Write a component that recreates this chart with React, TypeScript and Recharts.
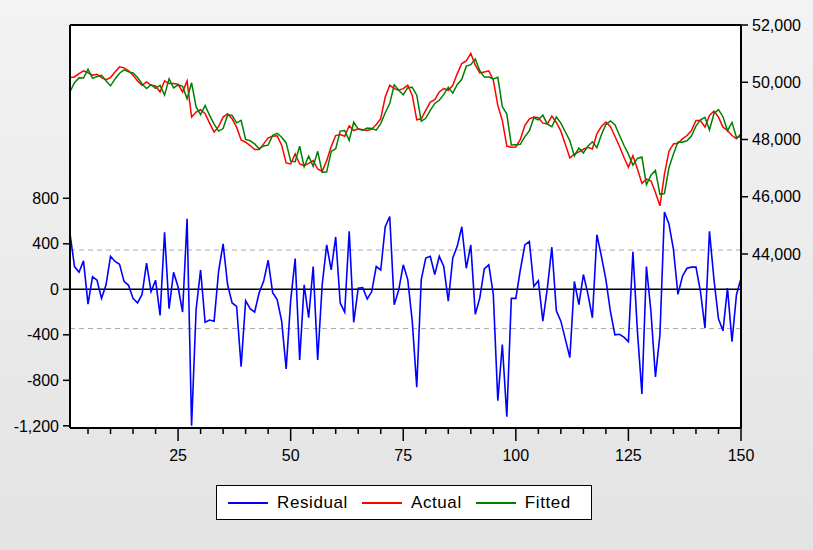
import { ComposedChart, Line, XAxis, YAxis, ReferenceLine, CartesianGrid } from 'recharts';

// residual = actual - fitted, one value per observation 1..150
const residual = [
  490, 200, 150, 250, -130, 110, 80, -80, 40, 290,
  245, 220, 70, 35, -80, -120, -45, 230, -20, 80,
  -230, 500, -170, 150, 20, -200, 620, -1200, -180, 170,
  -290, -270, -280, 160, 400, 40, -120, -150, -680, -100,
  -170, -200, -30, 70, 255, -30, -90, -280, -700, -100,
  270, -620, 40, -250, 200, -620, 40, 390, 170, 460,
  -120, -200, 510, -290, 10, 15, -85, -20, 200, 170,
  550, 640, -135, -5, 215, 85, -280, -860, 85, 275,
  290, 130, 290, 200, -105, 275, 380, 550, 185, 390,
  -220, -75, 180, 215, -45, -980, -485, -1120, -80, -80,
  170, 390, 420, 25, 75, -280, 10, 370, -190, -280,
  -440, -600, 70, -135, 130, -40, -250, 480, 290, 85,
  -195, -400, -395, -420, -460, 330, -370, -920, 200, -195,
  -770, -400, 680, 575, 350, -45, 115, 185, 195, 195,
  -20, -340, 510, 85, -260, -365, 10, -460, -45, 95,
];

const actual = [
  50163, 50186, 50303, 50397, 50326, 50245, 50280, 50163, 50092, 50163,
  50361, 50537, 50502, 50397, 50245, 50045, 49894, 50011, 49894, 49870,
  49660, 50050, 49952, 49952, 49929, 49660, 50045, 48782, 48958, 49039,
  48899, 48571, 48255, 48455, 48782, 48899, 48723, 48431, 47986, 47905,
  47788, 47647, 47647, 47846, 48057, 48115, 48127, 47800, 47180, 47144,
  47495, 47144, 47086, 47167, 47261, 46968, 46887, 47261, 47752, 48138,
  48174, 48115, 48478, 48314, 48373, 48338, 48314, 48361, 48525, 48724,
  49484, 49894, 49777, 49718, 49777, 49894, 49542, 48689, 48724, 49016,
  49309, 49390, 49660, 49777, 49718, 49894, 50303, 50654, 50748, 51005,
  50596, 50326, 50361, 50397, 50069, 49191, 48665, 47770, 47729, 47740,
  48000, 48490, 48724, 48782, 48759, 48571, 48548, 48817, 48595, 48291,
  47823, 47355, 47495, 47565, 47659, 47729, 47670, 48197, 48455, 48607,
  48455, 48115, 47764, 47378, 47027, 47436, 46969, 46466, 46618, 46559,
  46150, 45682, 46793, 47589, 47846, 47870, 48022, 48138, 48314, 48665,
  48665, 48431, 48841, 48993, 48782, 48431, 48314, 48138, 48022, 48197,
];

const fitted = [
  49673, 49986, 50153, 50147, 50456, 50135, 50200, 50243, 50052, 49873,
  50116, 50317, 50432, 50362, 50325, 50165, 49939, 49781, 49914, 49790,
  49890, 49550, 50122, 49802, 49909, 49860, 49425, 49982, 49138, 48869,
  49189, 48841, 48535, 48295, 48382, 48859, 48843, 48581, 48666, 48005,
  47958, 47847, 47677, 47776, 47802, 48145, 48217, 48080, 47880, 47244,
  47225, 47764, 47046, 47417, 47061, 47588, 46847, 46871, 47582, 47678,
  48294, 48315, 47968, 48604, 48363, 48323, 48399, 48381, 48325, 48554,
  48934, 49254, 49912, 49723, 49562, 49809, 49822, 49549, 48639, 48741,
  49019, 49260, 49370, 49577, 49823, 49619, 49923, 50104, 50563, 50615,
  50816, 50401, 50181, 50182, 50114, 50171, 49150, 48890, 47809, 47820,
  47830, 48100, 48304, 48757, 48684, 48851, 48538, 48447, 48785, 48571,
  48263, 47955, 47425, 47700, 47529, 47769, 47920, 47717, 48165, 48522,
  48650, 48515, 48159, 47798, 47487, 47106, 47339, 47386, 46418, 46754,
  46920, 46082, 46113, 47014, 47496, 47915, 47907, 47953, 48119, 48470,
  48685, 48771, 48331, 48908, 49042, 48796, 48304, 48598, 48067, 48102,
];

const obsTicks = [5, 10, 15, 20, 25, 30, 35, 40, 45, 50, 55, 60, 65, 70, 75, 80, 85, 90, 95, 100,
  105, 110, 115, 120, 125, 130, 135, 140, 145, 150];
const residualTicks = [-1200, -800, -400, 0, 400, 800];
const levelTicks = [44000, 46000, 48000, 50000, 52000];
const residualSE = 345;

const data = residual.map((r, i) => ({ obs: i + 1, residual: r, actual: actual[i], fitted: fitted[i] }));

const fmt = (v: number) => v.toLocaleString('en-US');

const ObsTick = (props: any) => {
  const { x, y, payload } = props;
  const major = payload.value % 25 === 0;
  return (
    <g>
      <line x1={x} x2={x} y1={y} y2={y + (major ? 13 : 6)} stroke="#000" strokeWidth={1.5} />
      {major && (
        <text x={x} y={y + 33} textAnchor="middle" fontSize={16} fill="#000">
          {payload.value}
        </text>
      )}
    </g>
  );
};

const legendItems = [
  { name: 'Residual', color: '#0000ff' },
  { name: 'Actual', color: '#ff0000' },
  { name: 'Fitted', color: '#008000' },
];

export default function App() {
  return (
    <div
      style={{
        position: 'absolute',
        left: 0,
        top: 0,
        width: 813,
        height: 550,
        background: 'linear-gradient(#f3f3f3, #e3e3e3)',
        fontFamily: '"Liberation Sans", Arial, sans-serif',
      }}
    >
      <ComposedChart width={813} height={550} data={data} margin={{ top: 25, right: 0, bottom: 0, left: 0 }}>
        <CartesianGrid horizontal={false} vertical={false} fill="#ffffff" />
        <XAxis
          dataKey="obs"
          type="number"
          domain={[1, 150]}
          ticks={obsTicks}
          interval={0}
          height={122}
          tickSize={0}
          tickMargin={0}
          tickLine={false}
          tick={<ObsTick />}
          axisLine={{ stroke: '#000', strokeWidth: 2 }}
          allowDataOverflow
        />
        <YAxis
          yAxisId="res"
          orientation="left"
          width={70}
          type="number"
          domain={[-1219, 2323]}
          ticks={residualTicks}
          interval={0}
          tickSize={7}
          tickMargin={4}
          tickFormatter={fmt}
          tick={{ fontSize: 16, fill: '#000' }}
          tickLine={{ stroke: '#000', strokeWidth: 1.5 }}
          axisLine={{ stroke: '#000', strokeWidth: 2 }}
          allowDataOverflow
        />
        <YAxis
          yAxisId="lvl"
          orientation="right"
          width={72}
          type="number"
          domain={[37921, 52000]}
          ticks={levelTicks}
          interval={0}
          tickSize={7}
          tickMargin={4}
          tickFormatter={fmt}
          tick={{ fontSize: 16, fill: '#000' }}
          tickLine={{ stroke: '#000', strokeWidth: 1.5 }}
          axisLine={{ stroke: '#000', strokeWidth: 2 }}
          allowDataOverflow
        />
        <ReferenceLine yAxisId="lvl" y={52000} stroke="#000" strokeWidth={2} />
        <ReferenceLine yAxisId="res" y={residualSE} stroke="#aaaaaa" strokeDasharray="5 4" />
        <ReferenceLine yAxisId="res" y={-residualSE} stroke="#aaaaaa" strokeDasharray="5 4" />
        <ReferenceLine yAxisId="res" y={0} stroke="#000" strokeWidth={1.5} />
        <Line yAxisId="res" dataKey="residual" stroke="#0000ff" strokeWidth={1.6} dot={false} type="linear" isAnimationActive={false} />
        <Line yAxisId="lvl" dataKey="actual" stroke="#ff0000" strokeWidth={1.5} dot={false} type="linear" isAnimationActive={false} />
        <Line yAxisId="lvl" dataKey="fitted" stroke="#008000" strokeWidth={1.5} dot={false} type="linear" isAnimationActive={false} />
      </ComposedChart>
      <div
        style={{
          position: 'absolute',
          left: 216,
          top: 485,
          width: 376,
          height: 35,
          background: '#fff',
          border: '1px solid #000',
          display: 'flex',
          alignItems: 'center',
          paddingLeft: 11,
          boxSizing: 'border-box',
          fontSize: 17,
          letterSpacing: 0.6,
        }}
      >
        {legendItems.map((it) => (
          <div key={it.name} style={{ display: 'flex', alignItems: 'center', marginRight: 14 }}>
            <span style={{ display: 'inline-block', width: 40, height: 2, background: it.color, marginRight: 9 }} />
            <span>{it.name}</span>
          </div>
        ))}
      </div>
    </div>
  );
}
